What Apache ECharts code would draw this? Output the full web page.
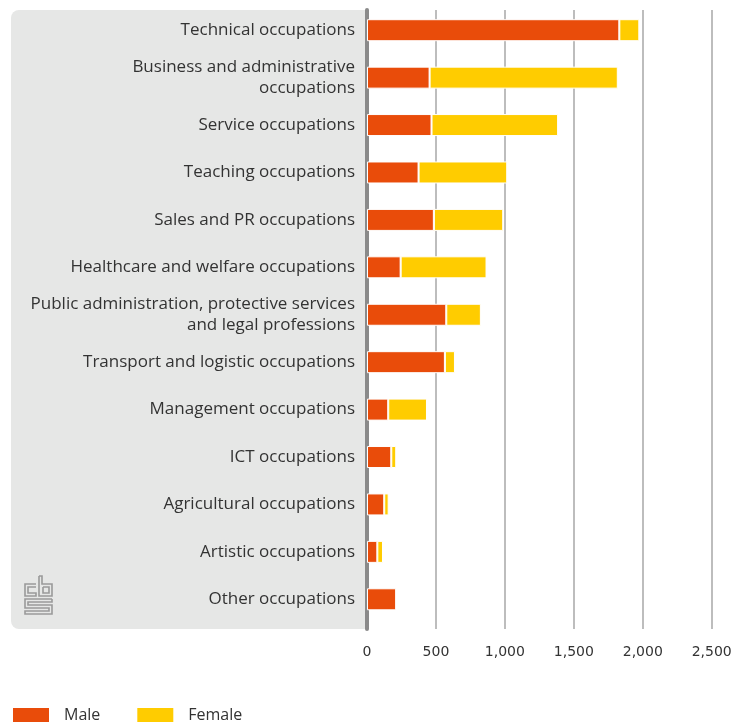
<!DOCTYPE html>
<html><head><meta charset="utf-8">
<script src="https://cdn.jsdelivr.net/npm/echarts@6/dist/echarts.min.js"></script>
<style>html,body{margin:0;padding:0;background:#fff}#c{width:737px;height:723px}</style>
</head><body><div id="c"></div>
<script>
const categories = [
  "Technical occupations",
  "Business and administrative\noccupations",
  "Service occupations",
  "Teaching occupations",
  "Sales and PR occupations",
  "Healthcare and welfare occupations",
  "Public administration, protective services\nand legal professions",
  "Transport and logistic occupations",
  "Management occupations",
  "ICT occupations",
  "Agricultural occupations",
  "Artistic occupations",
  "Other occupations"
];
const male =   [1830, 454, 468, 374, 485, 244, 575, 565, 154, 176, 125, 75, 212];
const female = [145, 1365, 918, 643, 503, 623, 251, 73, 281, 36, 32, 41, 0];
const xTicks = [0, 500, 1000, 1500, 2000, 2500];

const chart = echarts.init(document.getElementById('c'), null, {renderer: 'canvas'});
const fontLbl = '"Open Sans", sans-serif';
const logoStyle = {stroke: '#9a9a9a', lineWidth: 1.6, fill: null};
const ox = 25, oy = 576;
function pl(pts){ return {type:'polyline', shape:{points: pts.map(p=>[ox+p[0], oy+p[1]])}, style: logoStyle, z: 5}; }
chart.setOption({
  animation: false,
  graphic: [
    {type:'rect', shape:{x:11, y:10, width:358, height:619, r:[8,0,0,8]}, style:{fill:'#e6e7e6'}, z:-10},
    pl([[11,8],[0,8],[0,20],[11,20],[11,17],[3,17],[3,11],[11,11]]),
    pl([[14,0],[17,0],[17,8],[27,8],[27,20],[14,20],[14,0]]),
    pl([[18,11],[24,11],[24,17],[18,17],[18,11]]),
    pl([[27,23],[0,23],[0,32],[24,32],[24,35],[0,35],[0,38],[27,38],[27,29],[3,29],[3,26],[27,26],[27,23]])
  ],
  legend: {
    left: 6, top: 701, itemWidth: 38, itemHeight: 16, itemGap: 35,
    icon: 'rect',
    textStyle: {fontFamily: fontLbl, fontSize: 16, color: '#333', padding: [0,0,0,9]},
    data: ['Male', 'Female']
  },
  grid: [
    {left: 367, right: 25.3, top: 10, bottom: 94},
    {left: 367, right: 25.3, top: 6.5, bottom: 100}
  ],
  xAxis: [
    {gridIndex: 0, type: 'value', min: xTicks[0], max: xTicks[xTicks.length-1], interval: 500,
     axisLine: {show: false}, axisTick: {show: false},
     splitLine: {lineStyle: {color: '#bdbdbd', width: 2}},
     axisLabel: {margin: 16, fontFamily: 'DejaVu Sans', fontSize: 14, color: '#333',
       formatter: v => v.toLocaleString('en-US')}},
    {gridIndex: 1, type: 'value', min: xTicks[0], max: xTicks[xTicks.length-1], interval: 500,
     show: false}
  ],
  yAxis: [
    {gridIndex: 0, type: 'category', data: categories, inverse: true,
     axisLine: {show: true, lineStyle: {color: '#8a8a8a', width: 4}},
     axisTick: {show: false}, axisLabel: {show: false}, splitLine: {show: false}},
    {gridIndex: 1, type: 'category', data: categories, inverse: true,
     axisLine: {show: false}, axisTick: {show: false},
     axisLabel: {margin: 12, fontFamily: fontLbl, fontSize: 17, color: '#333', lineHeight: 21, align: 'right', padding: [4,0,0,0]}}
  ],
  series: [
    {name: 'Male', type: 'bar', stack: 't', xAxisIndex: 1, yAxisIndex: 1, data: male, barWidth: 22,
     itemStyle: {color: '#e94c0a', borderColor: '#fff', borderWidth: 1}},
    {name: 'Female', type: 'bar', stack: 't', xAxisIndex: 1, yAxisIndex: 1, data: female, barWidth: 22,
     itemStyle: {color: '#ffcc00', borderColor: '#fff', borderWidth: 1}}
  ]
});
</script></body></html>
